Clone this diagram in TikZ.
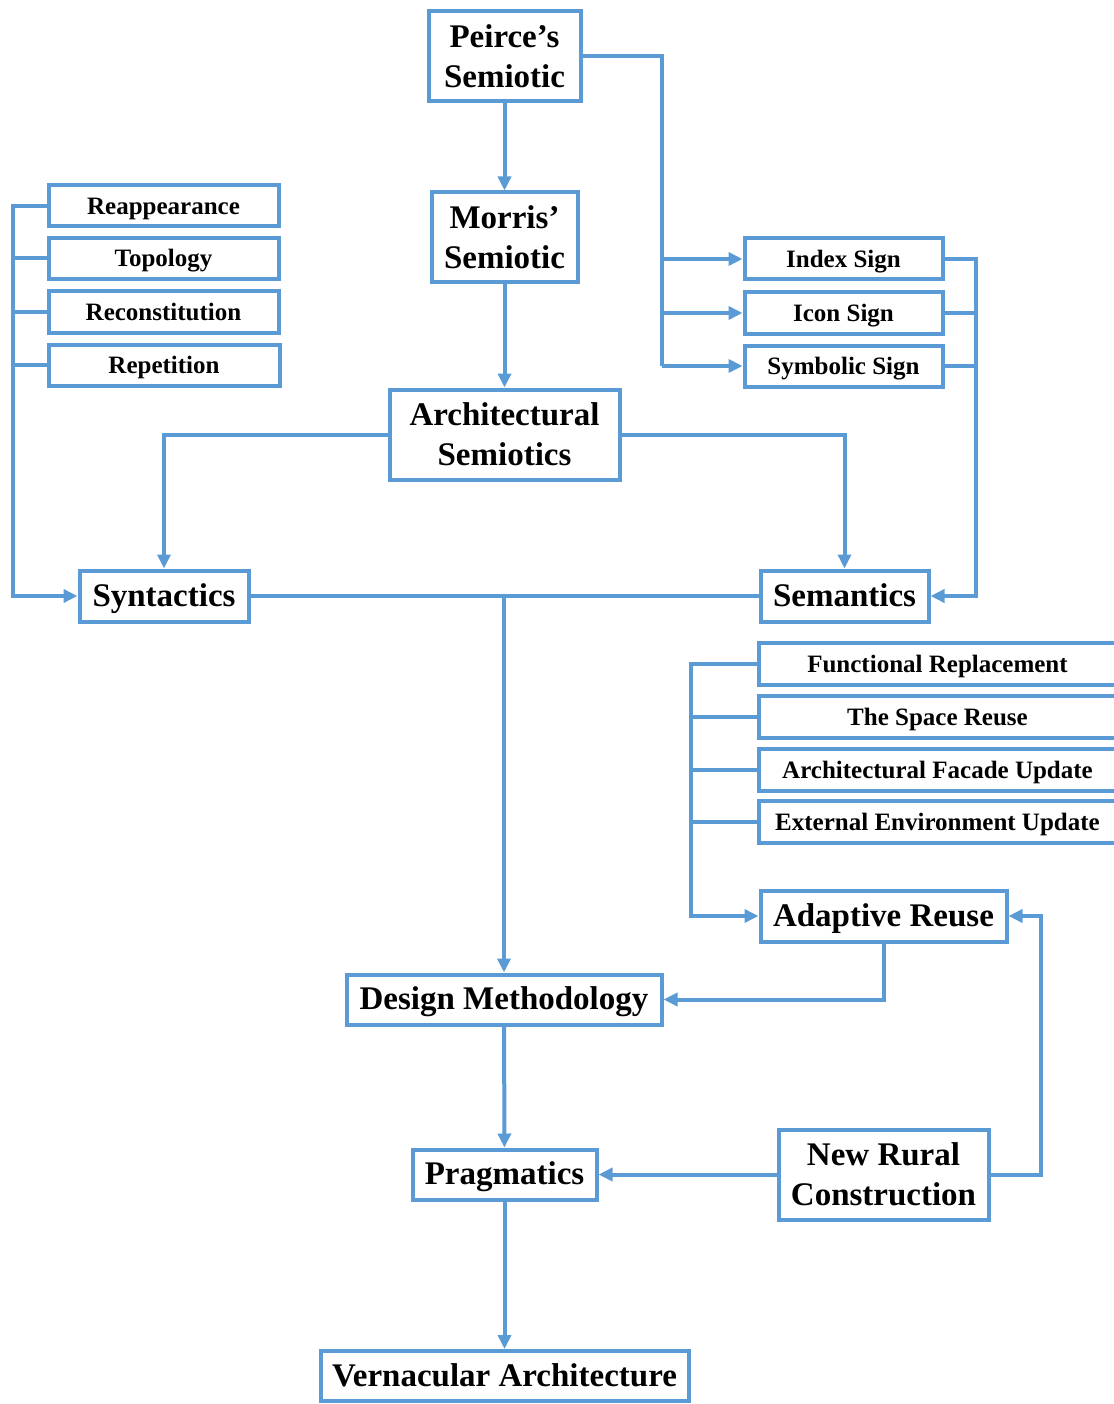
\documentclass[tikz,border=0pt]{standalone}
\usepackage{fontspec}
\setmainfont{Liberation Serif}
\usetikzlibrary{arrows.meta}
\definecolor{lb}{RGB}{91,155,213}
\begin{document}
\begin{tikzpicture}[x=1pt,y=-1pt,
 box/.style={draw=lb, line width=4pt, fill=white, inner sep=0pt, font=\bfseries\fontsize{33}{40}\selectfont, align=center},
 bbox/.style={box, text height=22pt, text depth=2pt},
 sbox/.style={box, font=\bfseries\fontsize{25}{30}\selectfont, minimum height=41, text height=17pt, text depth=0pt},
 conn/.style={draw=lb, line width=4pt},
 arr/.style={conn, -{Triangle[length=14pt,width=13pt]}}
]
\useasboundingbox (0,0) rectangle (1113,1404);

\node[box, minimum width=152, minimum height=90] (peirce) at (504.5,56.5) {Peirce’s\\Semiotic};
\node[box, minimum width=146, minimum height=90] (morris) at (504.5,237.5) {Morris’\\Semiotic};
\node[box, minimum width=230, minimum height=90] (arch) at (504.5,434.5) {Architectural\\Semiotics};

\node[sbox, minimum width=230] (reap) at (163.5,206) {Reappearance};
\node[sbox, minimum width=230] (topo) at (163.5,258.5) {Topology};
\node[sbox, minimum width=230] (recon) at (163.5,312) {Reconstitution};
\node[sbox, minimum width=231] (rep) at (164,365) {Repetition};

\node[sbox, minimum width=198] (index) at (843.5,259) {Index Sign};
\node[sbox, minimum width=198] (icon) at (843.5,313) {Icon Sign};
\node[sbox, minimum width=198] (symb) at (843.5,366) {Symbolic Sign};

\node[bbox, minimum width=169, minimum height=51] (synt) at (164,596) {Syntactics};
\node[bbox, minimum width=168, minimum height=51] (sem) at (844.5,596) {Semantics};

\node[sbox, minimum width=357, minimum height=42] (func) at (937.5,663.5) {Functional Replacement};
\node[sbox, minimum width=357, minimum height=42] (space) at (937.5,716.5) {The Space Reuse};
\node[sbox, minimum width=357, minimum height=42] (facade) at (937.5,769.5) {Architectural Facade Update};
\node[sbox, minimum width=357, minimum height=42] (ext) at (937.5,822) {External Environment Update};

\node[bbox, minimum width=246, minimum height=51] (adapt) at (883.5,916) {Adaptive Reuse};
\node[bbox, minimum width=315, minimum height=50] (design) at (504,999.5) {Design Methodology};
\node[bbox, minimum width=184, minimum height=50] (prag) at (504.5,1174.5) {Pragmatics};
\node[box, minimum width=210, minimum height=90] (nrc) at (883.5,1174.5) {New Rural\\Construction};
\node[bbox, minimum width=368, minimum height=50] (vern) at (504.5,1376) {Vernacular Architecture};

% top chain
\draw[arr] (peirce) -- (morris);
\draw[arr] (morris) -- (arch);

% Peirce to signs
\coordinate (pv) at (662,56.5);
\draw[conn] (peirce.east) -- (pv) -- (pv |- symb);
\draw[arr] (pv |- index) -- (index.west);
\draw[arr] (pv |- icon) -- (icon.west);
\draw[arr] (pv |- symb) -- (symb.west);

% signs to semantics
\coordinate (rv) at (976,259);
\draw[arr] (index.east) -- (rv) |- (sem.east);
\draw[conn] (icon.east) -- (icon.east -| rv);
\draw[conn] (symb.east) -- (symb.east -| rv);

% architectural semiotics to syntactics / semantics
\draw[arr] (arch.west) -| (synt.north);
\draw[arr] (arch.east) -| (sem.north);

% left bracket to syntactics
\coordinate (lv) at (13,206);
\draw[arr] (reap.west) -- (lv) |- (synt.west);
\draw[conn] (topo.west) -- (topo.west -| lv);
\draw[conn] (recon.west) -- (recon.west -| lv);
\draw[conn] (rep.west) -- (rep.west -| lv);

% syntactics - semantics to design
\draw[conn] (synt.east) -- (sem.west);
\coordinate (j) at (504,596);
\draw[arr] (j) -- (design.north);

% adaptive reuse bracket
\coordinate (fv) at (691,663.5);
\draw[arr] (func.west) -- (fv) |- (adapt.west);
\draw[conn] (space.west) -- (space.west -| fv);
\draw[conn] (facade.west) -- (facade.west -| fv);
\draw[conn] (ext.west) -- (ext.west -| fv);

\draw[arr] (adapt.south) |- (design.east);
\draw[arr] (design) -- (prag);
\draw[arr] (prag) -- (vern);
\draw[arr] (nrc.west) -- (prag.east);
\draw[arr] (nrc.east) -- ++(50,0) coordinate (nv) |- (adapt.east);
\end{tikzpicture}
\end{document}
